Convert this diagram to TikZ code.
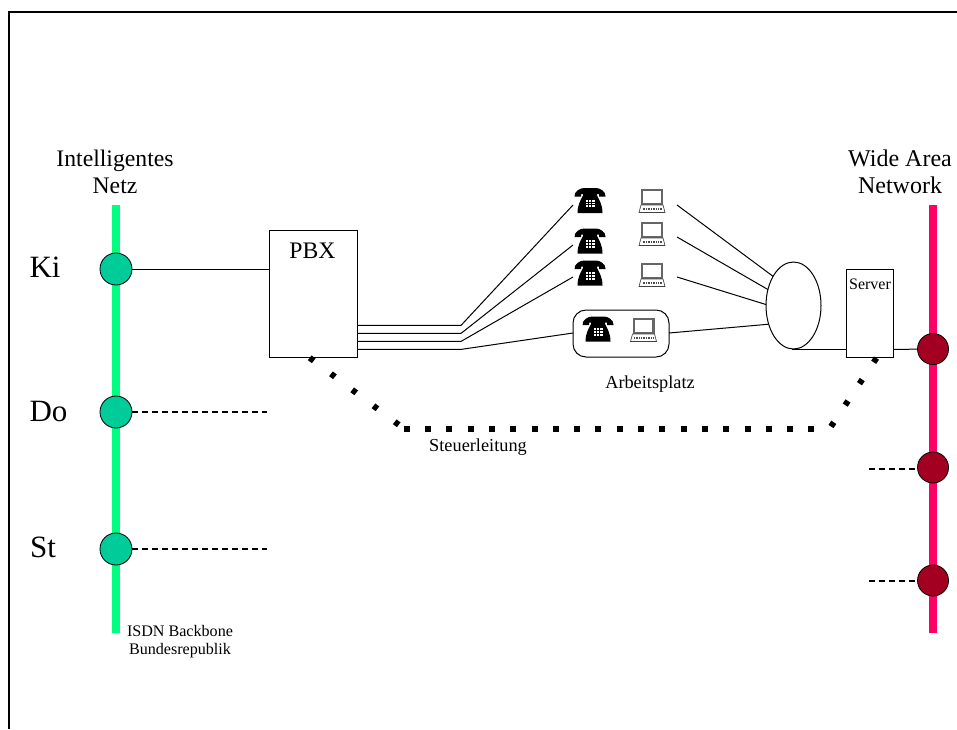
\documentclass[tikz,border=0pt]{standalone}
\usepackage{fontspec}
\setmainfont{Liberation Serif}
\usetikzlibrary{shapes.geometric}
\definecolor{greenbar}{RGB}{0,255,128}
\definecolor{pinkbar}{RGB}{255,0,102}
\definecolor{tealdot}{RGB}{0,204,153}
\definecolor{reddot}{RGB}{163,0,33}
\tikzset{
  x=1pt,y=-1pt,
  wire/.style={draw=black,line width=1pt},
  dashwire/.style={draw=black,line width=1.2pt,dash pattern=on 6pt off 4pt},
  ctrl/.style={draw=black,line width=6pt},
  bar/.style={line width=8pt,line cap=butt},
  boxn/.style={draw=black,line width=1pt,fill=white,inner sep=0pt,outer sep=0pt},
  gdot/.style={circle,draw=black,line width=0.8pt,fill=tealdot,minimum size=32pt,inner sep=0pt,outer sep=0pt},
  rdot/.style={circle,draw=black,line width=0.8pt,fill=reddot,minimum size=31pt,inner sep=0pt,outer sep=0pt},
  lbl/.style={inner sep=0pt,align=center},
  icon/.style={inner sep=0pt,outer sep=0pt,minimum width=30pt,minimum height=25pt},
  phone/.pic={
    \fill[black] (-15.5,-4) .. controls (-16,-9) and (-10,-12.5) .. (-6,-12.5) -- (6,-12.5)
       .. controls (10,-12.5) and (16,-9) .. (15.5,-4) -- (9,-4) -- (9,-6.5) -- (-9,-6.5) -- (-9,-4) -- cycle;
    \fill[black] (-7,-8) -- (7,-8) -- (7,-5) .. controls (9,-1) and (12.5,4) .. (12.5,12.5) -- (-12.5,12.5) .. controls (-12.5,4) and (-9,-1) .. (-7,-5) -- cycle;
    \foreach \yy in {-0.8,2,4.8}{\foreach \xx in {-4.5,-1.1,2.3}{\fill[white] (\xx,\yy) rectangle ++(2.2,1.9);}}
  },
  laptop/.pic={
    \fill[black!60] (-11,-12) rectangle (11,4);
    \fill[white] (-8.8,-10) rectangle (8.8,2);
    \draw[black!70,line width=0.7pt,fill=white] (-11,4) -- (11,4) -- (13,11.5) -- (-13,11.5) -- cycle;
    \draw[black!70,line width=2.2pt,dash pattern=on 1pt off 0.7pt] (-9.5,7.8) -- (9.5,7.8);
    \draw[black!75,line width=1.2pt] (-13,11.5) -- (13,11.5);
  },
}
\begin{document}
\begin{tikzpicture}
\useasboundingbox (0,0) rectangle (957,729);
% frame
\coordinate (fa) at (9,729); \coordinate (fb) at (9,12); \coordinate (fc) at (957,12);
\draw[black,line width=1.7pt,line join=miter] (fa) -- (fb) -- (fc);
% backbones
\coordinate (gt) at (116,205); \coordinate (gb) at (116,632.5);
\coordinate (pt) at (933,205); \coordinate (pb) at (933,633);
\draw[bar,greenbar] (gt) -- (gb);
\draw[bar,pinkbar] (pt) -- (pb);
% boxes
\node[boxn,minimum width=88pt,minimum height=127pt] (pbx) at (313,293.5) {};
\node[lbl,font=\fontsize{23.7}{27}\selectfont] (pbxl) at (312.5,251) {PBX};
\node[boxn,minimum width=47pt,minimum height=88pt] (srv) at (869.5,313) {};
\node[lbl,font=\fontsize{16}{18}\selectfont] (srvl) at (870,284) {Server};
\node[draw=black,line width=1pt,ellipse,minimum width=55pt,minimum height=87pt,inner sep=0pt,outer sep=0pt] (ell) at (793.5,305.5) {};
\node[draw=black,line width=1pt,rounded corners=13pt,minimum width=96pt,minimum height=47pt,inner sep=0pt,outer sep=0pt] (ap) at (621,333.5) {};
% dots
\node[gdot] (ki) at (116,269) {};
\node[gdot] (do) at (116,412) {};
\node[gdot] (st) at (116,549) {};
\node[rdot] (r1) at (933,349) {};
\node[rdot] (r2) at (933,467.5) {};
\node[rdot] (r3) at (933,580.5) {};
% icons
\node[icon] (p1) at (590,200.5) {}; \pic at (p1) {phone};
\node[icon] (p2) at (590,241) {}; \pic at (p2) {phone};
\node[icon] (p3) at (590,273) {}; \pic at (p3) {phone};
\node[icon] (p4) at (598,329) {}; \pic at (p4) {phone};
\node[icon] (l1) at (652,201) {}; \pic at (l1) {laptop};
\node[icon] (l2) at (652,234) {}; \pic at (l2) {laptop};
\node[icon] (l3) at (652,275) {}; \pic at (l3) {laptop};
\node[icon] (l4) at (643.5,330) {}; \pic at (l4) {laptop};
% solid wires
\coordinate (a1) at (357,325.4); \coordinate (a2) at (357,333.4); \coordinate (a3) at (357,341.4); \coordinate (a4) at (357,349.4);
\coordinate (b1) at (461,325.4); \coordinate (b2) at (461,333.4); \coordinate (b3) at (461,341.4); \coordinate (b4) at (461,349.4);
\coordinate (c1) at (573,205); \coordinate (c2) at (573,245); \coordinate (c3) at (573,277);
\coordinate (d1) at (677,205); \coordinate (d2) at (677,237); \coordinate (d3) at (677,277);
\draw[wire] (ki) -- (ki -| pbx.west);
\draw[wire] (a1) -- (b1) -- (c1);
\draw[wire] (a2) -- (b2) -- (c2);
\draw[wire] (a3) -- (b3) -- (c3);
\draw[wire] (a4) -- (b4) -- (ap.west |- 0,333);
\draw[wire] (d1) -- (ell.125);
\draw[wire] (d2) -- (ell.148);
\draw[wire] (d3) -- (ell.178);
\draw[wire] (ap.east |- 0,333) -- (ell.217);
\draw[wire] (ell.268 |- 0,349.4) -- (srv.west |- 0,349.4);
\draw[wire] (srv.east |- 0,349.4) -- (r1);
% dashed
\coordinate (e1) at (267,412); \coordinate (e2) at (267,549); \coordinate (e3) at (869,469); \coordinate (e4) at (869,581);
\draw[dashwire] (do) -- (e1);
\draw[dashwire] (st) -- (e2);
\draw[dashwire] (e3) -- (r2.west |- e3);
\draw[dashwire] (e4) -- (r3.west |- e4);
% control line
\coordinate (s1) at (309.7,357.8); \coordinate (s2) at (399,425);
\coordinate (s3) at (403.7,428.5); \coordinate (s4) at (814.7,428.5);
\coordinate (s5) at (831,426.5); \coordinate (s6) at (876.5,358);
\draw[ctrl,dash pattern=on 5pt off 21.6pt] (s1) -- (s2);
\draw[ctrl,dash pattern=on 6pt off 15.3pt] (s3) -- (s4);
\draw[ctrl,dash pattern=on 5pt off 20.7pt] (s5) -- (s6);
% labels
\node[lbl,font=\fontsize{23.7}{27}\selectfont] (t1) at (115,171.5) {Intelligentes\\Netz};
\node[lbl,font=\fontsize{24}{27}\selectfont] (t2) at (900,172) {Wide Area\\Network};
\node[lbl,font=\fontsize{31}{33}\selectfont] (t3) at (45,267) {Ki};
\node[lbl,font=\fontsize{31}{33}\selectfont] (t4) at (48.5,411) {Do};
\node[lbl,font=\fontsize{31}{33}\selectfont] (t5) at (43,547) {St};
\node[lbl,font=\fontsize{18.3}{20}\selectfont] (t6) at (650,384) {Arbeitsplatz};
\node[lbl,font=\fontsize{18.3}{20}\selectfont] (t7) at (478,447.5) {Steuerleitung};
\node[lbl,font=\fontsize{16.1}{18}\selectfont] (t8) at (180,642) {ISDN Backbone\\Bundesrepublik};
\end{tikzpicture}
\end{document}
